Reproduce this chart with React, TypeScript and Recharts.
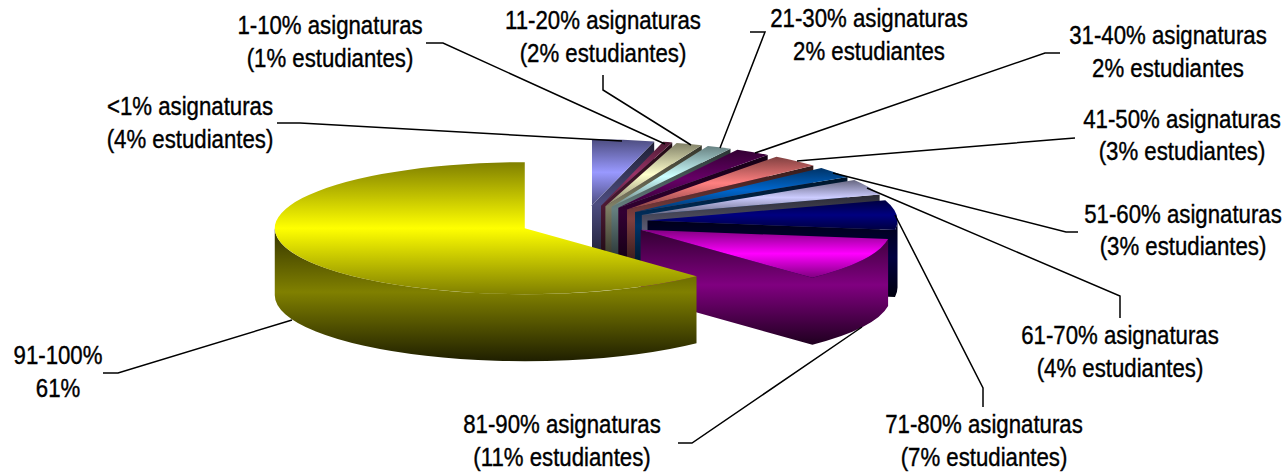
import React from "react";
import { PieChart, Pie } from "recharts";

const categories = ["<1%", "1-10%", "11-20%", "21-30%", "31-40%", "41-50%", "51-60%", "61-70%", "71-80%", "81-90%", "91-100%"];
const studentShare = [4, 0.6, 1.7, 1.6, 2.3, 3.2, 2.8, 3.9, 7.4, 11, 61.5];
const firstLines = [
  "<1% asignaturas", "1-10% asignaturas", "11-20% asignaturas", "21-30% asignaturas", "31-40% asignaturas",
  "41-50% asignaturas", "51-60% asignaturas", "61-70% asignaturas", "71-80% asignaturas", "81-90% asignaturas", "91-100%",
];
const secondLines = [
  "(4% estudiantes)", "(1% estudiantes)", "(2% estudiantes)", "2% estudiantes", "2% estudiantes",
  "(3% estudiantes)", "(3% estudiantes)", "(4% estudiantes)", "(7% estudiantes)", "(11% estudiantes)", "61%",
];
const colors = ["#9999ff", "#993366", "#ffffcc", "#ccffff", "#660066", "#ff8080", "#0066cc", "#ccccff", "#000080", "#ff00ff", "#ffff00"];

const chartData = categories.map((name, i) => ({ name, value: studentShare[i] }));

// Layout of the callouts, separate from the data
const labelCenters = [190, 330, 603, 869, 1168, 1182, 1183, 1120, 984, 562, 58];
const labelBaselines = [
  [115, 148], [34, 67], [29, 62], [27, 60], [44, 77], [128, 160], [223, 255], [344, 377], [433, 466], [433, 466], [364, 397],
];
const leaderLines = [
  "277,123 300,123 622,141",
  "426,43 443,43 665,144",
  "603,75 603,90 691,145",
  "750,32 765,32 720,148",
  "1060,53 1045,53 755,153",
  "1075,138 1062,139 797,161",
  "1078,232 1066,232 833,173",
  "1120,318 1120,296 867,188",
  "983,407 983,388 895,215",
  "678,443 692,443 862,327",
  "103,373 118,373 292,320",
];

const TILT = 0.264;
const DEPTH = 67;
const EXPLODE = 0.255;
const PERSPECTIVE_SKEW = (2.6 * Math.PI) / 180;

// The reference's 3D view foreshortens the angles slightly
const project = (t: number) => t - PERSPECTIVE_SKEW * Math.sin(t / 2) ** 4;

const shade = (hex: string, k: number) => {
  const n = parseInt(hex.slice(1), 16);
  const f = (v: number) => Math.round(v * k).toString(16).padStart(2, "0");
  return "#" + f((n >> 16) & 255) + f((n >> 8) & 255) + f(n & 255);
};

const Slice3D = (props: any) => {
  const { cx, cy, outerRadius: r, startAngle, endAngle, index } = props;
  const a0 = project(((90 - startAngle) * Math.PI) / 180);
  const a1 = project(((90 - endAngle) * Math.PI) / 180);
  const mid = (a0 + a1) / 2;
  const ry = r * TILT;
  const ax = cx + r * EXPLODE * Math.sin(mid);
  const ay = cy - ry * EXPLODE * Math.cos(mid);
  const px = (t: number) => ax + r * Math.sin(t);
  const py = (t: number) => ay - ry * Math.cos(t);
  const large = a1 - a0 > Math.PI ? 1 : 0;
  const top = `M${ax},${ay} L${px(a0)},${py(a0)} A${r},${ry} 0 ${large} 1 ${px(a1)},${py(a1)} Z`;

  let side = "";
  if (Math.sin(a1) > 0.0001) {
    side += `M${ax},${ay} L${px(a1)},${py(a1)} L${px(a1)},${py(a1) + DEPTH} L${ax},${ay + DEPTH} Z `;
  }
  const rimFrom = Math.max(a0, Math.PI / 2);
  const rimTo = Math.min(a1, (3 * Math.PI) / 2);
  if (rimTo > rimFrom) {
    const big = rimTo - rimFrom > Math.PI ? 1 : 0;
    side +=
      `M${px(rimFrom)},${py(rimFrom)} A${r},${ry} 0 ${big} 1 ${px(rimTo)},${py(rimTo)} ` +
      `L${px(rimTo)},${py(rimTo) + DEPTH} A${r},${ry} 0 ${big} 0 ${px(rimFrom)},${py(rimFrom) + DEPTH} Z`;
  }
  const c = colors[index];
  return (
    <g>
      <defs>
        <linearGradient id={`top${index}`} x1="0" y1="0" x2="0" y2="1">
          <stop offset="0" stopColor={shade(c, 0.5)} />
          <stop offset="0.5" stopColor={c} />
          <stop offset="1" stopColor={shade(c, 0.5)} />
        </linearGradient>
        <linearGradient id={`side${index}`} x1="0" y1="0" x2="0" y2="1">
          <stop offset="0" stopColor={shade(c, 0.2)} />
          <stop offset="0.48" stopColor={shade(c, 0.5)} />
          <stop offset="1" stopColor={shade(c, 0.12)} />
        </linearGradient>
      </defs>
      {side && <path d={side} fill={`url(#side${index})`} />}
      <path d={top} fill={`url(#top${index})`} />
    </g>
  );
};

const renderLabel = (props: any) => {
  const i = props.index;
  const [y1, y2] = labelBaselines[i];
  const x = labelCenters[i];
  const common = {
    textAnchor: "middle" as const,
    fontSize: 26,
    fill: "#000",
    stroke: "#000",
    strokeWidth: 0.4,
    fontFamily: "'Liberation Sans', sans-serif",
  };
  return (
    <g>
      <text {...common} transform={`translate(${x},${y1}) scale(0.855,1)`}>{firstLines[i]}</text>
      <text {...common} transform={`translate(${x},${y2}) scale(0.855,1)`}>{secondLines[i]}</text>
    </g>
  );
};

const renderLine = (props: any) => (
  <polyline points={leaderLines[props.index]} fill="none" stroke="#000" strokeWidth={1.5} />
);

export default function App() {
  return (
    <div style={{ position: "absolute", left: 0, top: 0, width: 1288, height: 476, background: "#fff" }}>
      <PieChart width={1288} height={476} margin={{ top: 0, right: 0, bottom: 0, left: 0 }}>
        <Pie
          data={chartData}
          dataKey="value"
          nameKey="name"
          cx={584}
          cy={222}
          innerRadius={0}
          outerRadius={250}
          startAngle={90}
          endAngle={-270}
          stroke="none"
          isAnimationActive={false}
          shape={Slice3D}
          label={renderLabel}
          labelLine={renderLine}
        />
      </PieChart>
    </div>
  );
}
